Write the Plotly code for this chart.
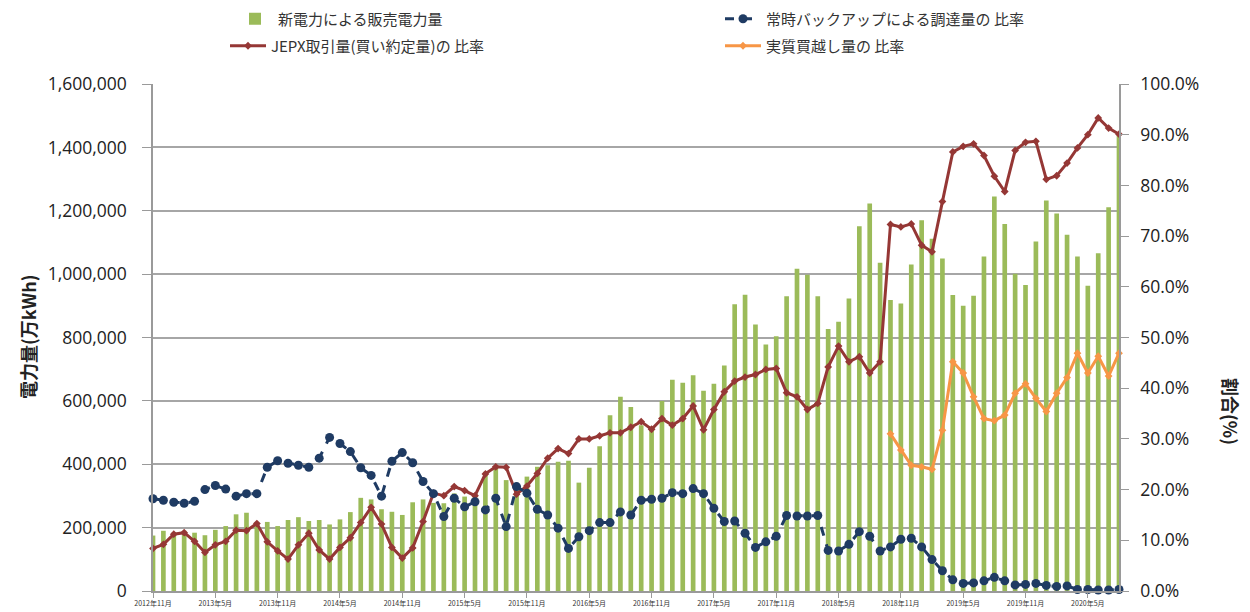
import plotly.graph_objects as go

# ---- data -------------------------------------------------------------
start_year, start_month, n_months = 2012, 11, 94
months = []
y, m = start_year, start_month
for _ in range(n_months):
    months.append(f"{y}年{m}月")
    m += 1
    if m > 12:
        m = 1
        y += 1

tick_labels = months[::6]

sales = [175000, 190000, 184000, 190000, 184000, 176000, 193000, 205000, 242000, 247000,
         216000, 218000, 205000, 224000, 233000, 221000, 224000, 210000, 226000, 249000,
         294000, 289000, 258000, 250000, 240000, 280000, 289000, 278000, 277000, 308000,
         298000, 308000, 376000, 394000, 350000, 340000, 361000, 392000, 397000, 408000,
         411000, 342000, 389000, 457000, 555000, 613000, 581000, 523000, 518000, 600000,
         667000, 657000, 681000, 632000, 654000, 712000, 905000, 935000, 841000, 778000,
         804000, 930000, 1017000, 998000, 930000, 827000, 850000, 923000, 1151000, 1223000,
         1036000, 918000, 907000, 1030000, 1170000, 1112000, 1049000, 934000, 900000, 932000,
         1056000, 1245000, 1158000, 1001000, 966000, 1103000, 1232000, 1191000, 1124000, 1056000,
         963000, 1066000, 1211000, 1440000]

backup_ratio = [18.2, 17.9, 17.5, 17.3, 17.7, 20.0, 20.8, 20.1, 18.7, 19.2,
                19.2, 24.4, 25.7, 25.2, 24.8, 24.4, 26.2, 30.3, 29.1, 27.5,
                24.3, 22.8, 18.7, 25.6, 27.3, 25.3, 21.6, 19.2, 14.7, 18.3,
                16.6, 17.6, 16.0, 18.3, 12.7, 20.6, 19.3, 16.1, 15.0, 12.4,
                8.4, 10.7, 11.9, 13.5, 13.5, 15.6, 15.0, 17.9, 18.1, 18.3,
                19.4, 19.2, 20.2, 19.2, 16.3, 13.7, 13.8, 11.4, 8.6, 9.7,
                10.8, 14.9, 14.8, 14.8, 14.9, 8.0, 7.9, 9.2, 11.7, 10.8,
                7.9, 8.7, 10.2, 10.4, 8.7, 6.2, 4.0, 2.2, 1.5, 1.6,
                2.0, 2.7, 2.0, 1.2, 1.3, 1.5, 1.1, 0.9, 1.0, 0.3,
                0.3, 0.2, 0.2, 0.3]

jepx_ratio = [8.4, 9.2, 11.2, 11.5, 9.8, 7.6, 9.1, 9.8, 12.0, 11.9,
              13.3, 9.7, 7.9, 6.3, 9.1, 11.4, 8.1, 6.3, 8.6, 10.5,
              13.5, 16.5, 13.2, 8.6, 6.5, 8.5, 13.7, 19.3, 18.8, 20.6,
              19.8, 18.8, 23.1, 24.5, 24.4, 19.1, 20.7, 23.2, 26.2, 28.1,
              27.1, 30.0, 30.0, 30.6, 31.2, 31.2, 32.3, 33.4, 31.9, 34.0,
              32.7, 34.0, 36.5, 31.8, 35.8, 39.3, 41.4, 42.2, 42.7, 43.7,
              43.9, 39.1, 38.3, 35.8, 37.0, 44.2, 48.3, 45.2, 46.2, 43.0,
              45.2, 72.3, 71.8, 72.4, 68.2, 66.9, 76.8, 86.6, 87.7, 88.2,
              85.9, 81.8, 78.8, 86.9, 88.5, 88.7, 81.2, 81.9, 84.4, 87.4,
              90.0, 93.3, 91.3, 90.1]

net_buy_ratio = [None] * 71 + [31.0, 27.8, 24.8, 24.5, 24.0, 31.7, 45.2, 43.0, 38.3,
                               34.0, 33.6, 34.7, 39.0, 40.9, 38.0, 35.4, 39.0, 42.1, 46.9,
                               43.0, 46.3, 42.4, 46.9]

names = ["新電力による販売電力量", "常時バックアップによる調達量の 比率",
         "JEPX取引量(買い約定量)の 比率", "実質買越し量の 比率"]

# ---- figure -----------------------------------------------------------
# the page body has an 8px margin, so the figure is drawn 8px smaller
OFF = 8
W, H = 1250 - OFF, 612 - OFF
L, R, T, B = 145, 131, 76, 21
pw, ph = W - L - R, H - T - B

def px_x(xs):
    """screen x (px) -> paper coordinate"""
    return (xs - OFF - L) / pw

def px_y(ys):
    """screen y (px) -> paper coordinate"""
    return (H - B - (ys - OFF)) / ph

JP = "Noto Sans CJK JP"
NUM = "Open Sans"

fig = go.Figure()
fig.add_trace(go.Bar(x=months, y=sales, name=names[0], marker_color="#9BBB59",
                     marker_line_width=0, legend="legend"))
fig.add_trace(go.Scatter(x=months, y=jepx_ratio, name=names[2], yaxis="y2",
                         mode="lines+markers", line=dict(color="#953735", width=3),
                         marker=dict(symbol="diamond", size=6, color="#953735"),
                         cliponaxis=False, legend="legend3"))
fig.add_trace(go.Scatter(x=months, y=backup_ratio, name=names[1], yaxis="y2",
                         mode="lines+markers",
                         line=dict(color="#1F3B63", width=3, dash="dash"),
                         marker=dict(symbol="circle", size=9, color="#1F3B63"),
                         cliponaxis=False, legend="legend2"))
fig.add_trace(go.Scatter(x=months, y=net_buy_ratio, name=names[3], yaxis="y2",
                         mode="lines+markers", line=dict(color="#F79646", width=3),
                         marker=dict(symbol="diamond", size=6, color="#F79646"),
                         cliponaxis=False, legend="legend4"))

leg_common = dict(font=dict(family=JP, size=15, color="#333333"),
                  bgcolor="rgba(0,0,0,0)", xanchor="left", yanchor="middle",
                  itemwidth=36, borderwidth=0)
fig.update_layout(
    width=W, height=H,
    margin=dict(l=L, r=R, t=T, b=B, pad=0, autoexpand=False),
    plot_bgcolor="white", paper_bgcolor="white",
    bargap=0.55,
    showlegend=True,
    legend=dict(x=px_x(232), y=px_y(19), **leg_common),
    legend2=dict(x=px_x(720), y=px_y(19), **leg_common),
    legend3=dict(x=px_x(225), y=px_y(46), **leg_common),
    legend4=dict(x=px_x(720), y=px_y(46), **leg_common),
    xaxis=dict(type="category", range=[0, n_months - 1],
               tickmode="array", tickvals=tick_labels, ticktext=tick_labels,
               tickfont=dict(family=JP, size=7, color="#333333"),
               showline=True, linecolor="#9a9a9a", linewidth=1.5,
               ticks="outside", ticklen=5, tickcolor="#9a9a9a",
               showgrid=False, zeroline=False),
    yaxis=dict(range=[0, 1600000], dtick=200000, tickformat=",",
               tickfont=dict(family=NUM, size=17.5, color="#222222"),
               showline=True, linecolor="#9a9a9a", linewidth=1.5,
               ticks="outside", ticklen=9, tickcolor="#9a9a9a",
               ticklabelstandoff=12,
               showgrid=True, gridcolor="#a6a6a6", gridwidth=1.5,
               zeroline=False),
    yaxis2=dict(range=[0, 100], dtick=10, tickformat=".1f", ticksuffix="%",
                overlaying="y", side="right",
                tickfont=dict(family=NUM, size=17.5, color="#222222"),
                showline=True, linecolor="#9a9a9a", linewidth=1.5,
                ticks="outside", ticklen=8, tickcolor="#9a9a9a",
                ticklabelstandoff=8,
                showgrid=False, zeroline=False),
)

fig.add_annotation(text="<b>電力量(万kWh)</b>", xref="paper", yref="paper",
                   x=px_x(28), y=px_y(337), xanchor="center", yanchor="middle",
                   showarrow=False, textangle=-90,
                   font=dict(family=JP, size=18, color="#222222"))
fig.add_annotation(text="<b>割合(%)</b>", xref="paper", yref="paper",
                   x=px_x(1231), y=px_y(411), xanchor="center", yanchor="middle",
                   showarrow=False, textangle=90,
                   font=dict(family=JP, size=18, color="#222222"))

fig.write_html("out.html")
